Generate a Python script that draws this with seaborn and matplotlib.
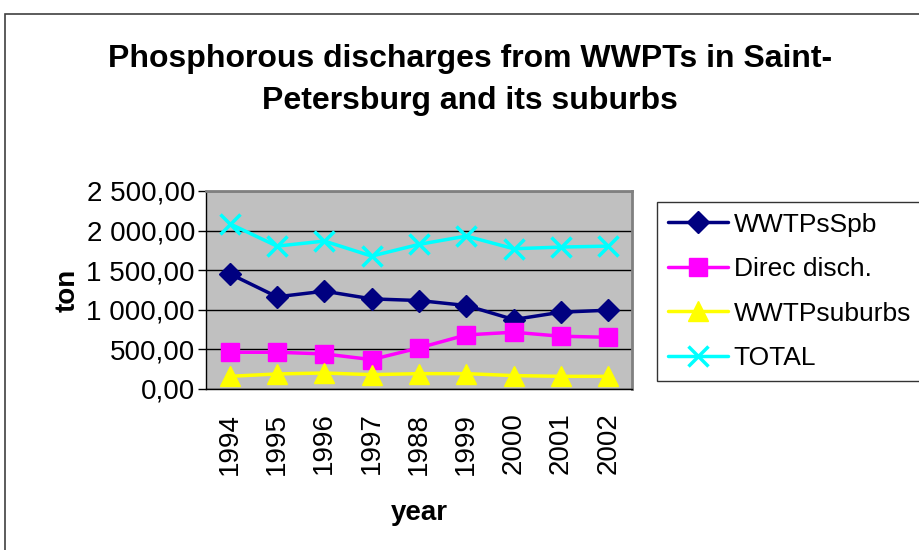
import matplotlib
matplotlib.use('Agg')
import matplotlib.pyplot as plt
from matplotlib.patches import Rectangle
from matplotlib.ticker import FuncFormatter, FixedLocator
import pandas as pd
import numpy as np
import seaborn as sns

# Data
years = ['1994', '1995', '1996', '1997', '1988', '1999', '2000', '2001', '2002']
wwtps_spb = [1455, 1164, 1235, 1138, 1117, 1054, 877, 970, 995]
direc_disch = [464, 464, 443, 371, 519, 683, 717, 666, 653]
wwtp_suburbs = [160, 190, 202, 181, 194, 194, 169, 160, 160]
total = [2087, 1804, 1868, 1678, 1826, 1931, 1771, 1792, 1804]

series_names = ['WWTPsSpb', 'Direc disch.', 'WWTPsuburbs', 'TOTAL']
series_values = [wwtps_spb, direc_disch, wwtp_suburbs, total]
colors = ['#000080', '#FF00FF', '#FFFF00', '#00FFFF']
markers = ['D', 's', '^', 'x']
marker_sizes = [11, 13, 14, 14]

rows = []
for name, vals in zip(series_names, series_values):
    for i, v in enumerate(vals):
        rows.append({'pos': i, 'value': v, 'series': name})
df = pd.DataFrame(rows)

sns.set_style('white')
plt.rcParams['font.family'] = ['Liberation Sans', 'DejaVu Sans']
plt.rcParams['text.color'] = 'black'
plt.rcParams['axes.labelcolor'] = 'black'
plt.rcParams['xtick.color'] = 'black'
plt.rcParams['ytick.color'] = 'black'

fig = plt.figure(figsize=(9.2, 5.5), dpi=100)
fig.patch.set_facecolor('white')
ax = fig.add_axes([206 / 920, 161 / 550, 426 / 920, 198 / 550])
ax.set_facecolor('#C0C0C0')

for name, c, m, ms in zip(series_names, colors, markers, marker_sizes):
    sub = df[df['series'] == name]
    sns.lineplot(data=sub, x='pos', y='value', ax=ax, color=c, marker=m,
                 markersize=ms, markeredgecolor=c, markerfacecolor=c,
                 markeredgewidth=2.5 if m == 'x' else 1, linewidth=2.5,
                 label=name, sort=False, legend=False, zorder=3)

ax.set_xlim(-0.5, len(years) - 0.5)
ax.set_ylim(0, 2500)
ax.set_yticks(np.arange(0, 2501, 500))


def fmt(v, pos):
    s = f'{v:,.2f}'
    return s.replace(',', ' ').replace('.', ',')


ax.yaxis.set_major_formatter(FuncFormatter(fmt))
ax.set_xticks(np.arange(len(years)))
ax.set_xticklabels(years, rotation=90)
ax.xaxis.set_minor_locator(FixedLocator(np.arange(len(years) + 1) - 0.5))
ax.tick_params(axis='x', which='major', length=0, pad=17, labelsize=20)
ax.tick_params(axis='x', which='minor', length=7, width=1, color='black', direction='out')
ax.tick_params(axis='y', which='major', length=6, width=1, color='black', direction='out',
               labelsize=20, pad=2, left=True)
ax.yaxis.grid(True, color='black', linewidth=1)
ax.set_axisbelow(True)
for side in ['top', 'right']:
    ax.spines[side].set_color('#808080')
    ax.spines[side].set_linewidth(2)
for side in ['left', 'bottom']:
    ax.spines[side].set_color('black')
    ax.spines[side].set_linewidth(1)

ax.set_xlabel('year', fontsize=20, fontweight='bold', labelpad=18)
ax.set_ylabel('ton', fontsize=20, fontweight='bold', labelpad=4)

fig.text(470 / 920, 1 - 80 / 550,
         'Phosphorous discharges from WWPTs in Saint-\nPetersburg and its suburbs',
         ha='center', va='center', fontsize=23, fontweight='bold', linespacing=1.55)

# legend built from the drawn lines
handles = ax.get_lines()[:len(series_names)]
leg = fig.legend(handles=handles, labels=series_names, loc='upper left',
                 bbox_to_anchor=(657 / 920, 1 - 202 / 550), fontsize=19,
                 frameon=True, fancybox=False, handlelength=2.3, handletextpad=0.2,
                 labelspacing=0.78, borderpad=0.4, borderaxespad=0)
leg.get_frame().set_edgecolor('black')
leg.get_frame().set_linewidth(1)

fig.patches.append(Rectangle((5 / 920, -0.1), 1.2, 1 - 14 / 550 + 0.1,
                             transform=fig.transFigure, fill=False,
                             edgecolor='#404040', linewidth=1.2, zorder=-1))

fig.savefig('out.png', dpi=100)
